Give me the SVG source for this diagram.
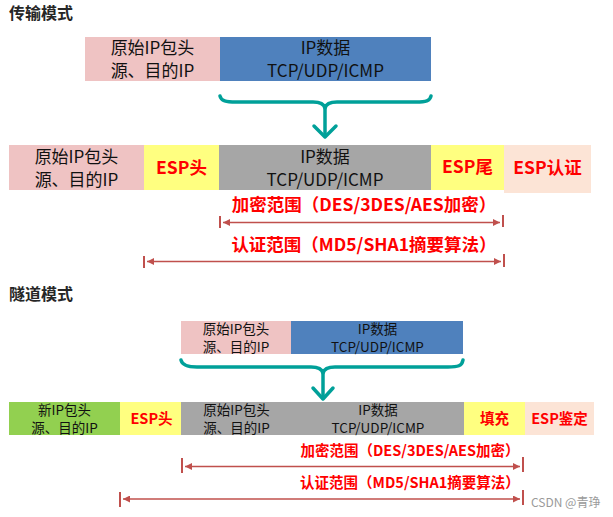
<svg xmlns="http://www.w3.org/2000/svg" width="613" height="517" viewBox="0 0 613 517">
<defs>
<style>
text{font-family:"Noto Sans CJK SC","Microsoft YaHei",sans-serif;}
.title{font-size:16px;font-weight:bold;fill:#262626;}
.t1{font-size:17px;fill:#111;text-anchor:middle;}
.t2{font-size:13.5px;fill:#111;text-anchor:middle;}
.r1{font-size:17.5px;font-weight:bold;fill:#FF0000;text-anchor:middle;}
.r2{font-size:14.5px;font-weight:bold;fill:#FF0000;text-anchor:middle;}
.pink{fill:#EFC3C3;}
.blue{fill:#4F81BD;}
.gray{fill:#A6A6A6;}
.yellow{fill:#FFFF80;}
.peach{fill:#FCE4D6;}
.green{fill:#92D050;}
.brace{fill:none;stroke:#00A099;stroke-width:3.5;stroke-linecap:round;stroke-linejoin:round;}
.rng{stroke:#C0504D;stroke-width:1.5;fill:none;}
.tick{stroke:#C0504D;stroke-width:2;}
</style>
<marker id="ah" viewBox="0 0 10 10" refX="10" refY="5" markerWidth="8" markerHeight="7" markerUnits="userSpaceOnUse" orient="auto-start-reverse">
<path d="M0,0 L10,5 L0,10 Z" fill="#C0504D"/>
</marker>
</defs>

<text class="title" x="9" y="19">传输模式</text>
<text class="title" x="9" y="300">隧道模式</text>

<!-- Transport mode, original packet -->
<g id="t-orig-ip">
<rect class="pink" x="85" y="37" width="135" height="44"/>
<text class="t1" x="152.5" y="54">原始IP包头</text>
<text class="t1" x="152.5" y="76.5">源、目的IP</text>
</g>
<g id="t-orig-data">
<rect class="blue" x="220" y="37" width="211" height="44"/>
<text class="t1" x="325.5" y="54">IP数据</text>
<text class="t1" x="325.5" y="76.5">TCP/UDP/ICMP</text>
</g>

<!-- Transport mode, ESP packet -->
<g id="t-ip">
<rect class="pink" x="9" y="145" width="135" height="45"/>
<text class="t1" x="76.5" y="163">原始IP包头</text>
<text class="t1" x="76.5" y="185.5">源、目的IP</text>
</g>
<g id="t-esp-head">
<rect class="yellow" x="144" y="145" width="75" height="45"/>
<text class="r1" x="181.5" y="174">ESP头</text>
</g>
<g id="t-data">
<rect class="gray" x="219" y="145" width="212" height="45"/>
<text class="t1" x="325" y="163">IP数据</text>
<text class="t1" x="325" y="185.5">TCP/UDP/ICMP</text>
</g>
<g id="t-esp-tail">
<rect class="yellow" x="431" y="145" width="73" height="45"/>
<text class="r1" x="467.5" y="173">ESP尾</text>
</g>
<g id="t-esp-auth">
<rect class="peach" x="504" y="145" width="87" height="48"/>
<text class="r1" x="547.5" y="174">ESP认证</text>
</g>
<g id="t-enc-label">
<text class="r1" x="364" y="211">加密范围（DES/3DES/AES加密）</text>
</g>
<g id="t-auth-label">
<text class="r1" x="364" y="251">认证范围（MD5/SHA1摘要算法）</text>
</g>

<!-- Tunnel mode, original packet -->
<g id="u-orig-ip">
<rect class="pink" x="181" y="321" width="110" height="33"/>
<text class="t2" x="236" y="333.5">原始IP包头</text>
<text class="t2" x="236" y="351.5">源、目的IP</text>
</g>
<g id="u-orig-data">
<rect class="blue" x="291" y="321" width="172" height="33"/>
<text class="t2" x="377.5" y="333.5">IP数据</text>
<text class="t2" x="377.5" y="351.5">TCP/UDP/ICMP</text>
</g>

<!-- Tunnel mode, ESP packet -->
<g id="u-new-ip">
<rect class="green" x="9" y="402" width="111" height="33"/>
<text class="t2" x="64.5" y="414.5">新IP包头</text>
<text class="t2" x="64.5" y="432.5">源、目的IP</text>
</g>
<g id="u-esp-head">
<rect class="yellow" x="120" y="402" width="61" height="33"/>
<text class="r2" x="151.5" y="424">ESP头</text>
</g>
<g id="u-inner">
<rect class="gray" x="181" y="402" width="283" height="33"/>
<text class="t2" x="236.5" y="414.5">原始IP包头</text>
<text class="t2" x="236.5" y="432.5">源、目的IP</text>
<text class="t2" x="378" y="414.5">IP数据</text>
<text class="t2" x="378" y="432.5">TCP/UDP/ICMP</text>
</g>
<g id="u-pad">
<rect class="yellow" x="464" y="402" width="61" height="33"/>
<text class="r2" x="494.5" y="424">填充</text>
</g>
<g id="u-esp-auth">
<rect class="peach" x="525" y="402" width="69" height="33"/>
<text class="r2" x="559.5" y="424">ESP鉴定</text>
</g>
<g id="u-enc-label">
<text class="r2" x="410" y="456">加密范围（DES/3DES/AES加密）</text>
</g>
<g id="u-auth-label">
<text class="r2" x="410" y="488">认证范围（MD5/SHA1摘要算法）</text>
</g>

<g id="connectors">
<!-- transport brace -->
<path class="brace" d="M220,96 C221,101 226,102 236,102 L313,102 C320,102 324,104 325,108 C326,104 330,102 337,102 L416,102 C426,102 430,101 431,96"/>
<path class="brace" d="M325,106 L325,136"/>
<path class="brace" stroke-width="4" d="M314,126 L325,137 L336,126"/>
<!-- tunnel brace -->
<path class="brace" d="M181,360 C182,365 187,367 197,367 L311,367 C318,367 322,369 323,373 C324,369 328,367 335,367 L448,367 C458,367 462,366 463,360"/>
<path class="brace" d="M323,371 L323,398"/>
<path class="brace" stroke-width="4" d="M313,388 L323,399 L333,388"/>
<!-- transport ranges -->
<line class="tick" x1="220" y1="216" x2="220" y2="228"/>
<line class="tick" x1="503" y1="215" x2="503" y2="227"/>
<line class="rng" x1="223" y1="222.5" x2="500" y2="222.5" marker-start="url(#ah)" marker-end="url(#ah)"/>
<line class="tick" x1="144" y1="256" x2="144" y2="268"/>
<line class="tick" x1="504" y1="254" x2="504" y2="267"/>
<line class="rng" x1="147" y1="261.5" x2="501" y2="261.5" marker-start="url(#ah)" marker-end="url(#ah)"/>
<!-- tunnel ranges -->
<line class="tick" x1="182" y1="458" x2="182" y2="473"/>
<line class="tick" x1="523" y1="457" x2="523" y2="472"/>
<line class="rng" x1="185" y1="466.5" x2="520" y2="466.5" marker-start="url(#ah)" marker-end="url(#ah)"/>
<line class="tick" x1="120" y1="492" x2="120" y2="507"/>
<line class="tick" x1="523" y1="490" x2="523" y2="505"/>
<line class="rng" x1="123" y1="499" x2="520" y2="499" marker-start="url(#ah)" marker-end="url(#ah)"/>
</g>

<text x="531" y="507" style="font-size:12px;fill:#9A9A9A;">CSDN @青琤</text>
</svg>
